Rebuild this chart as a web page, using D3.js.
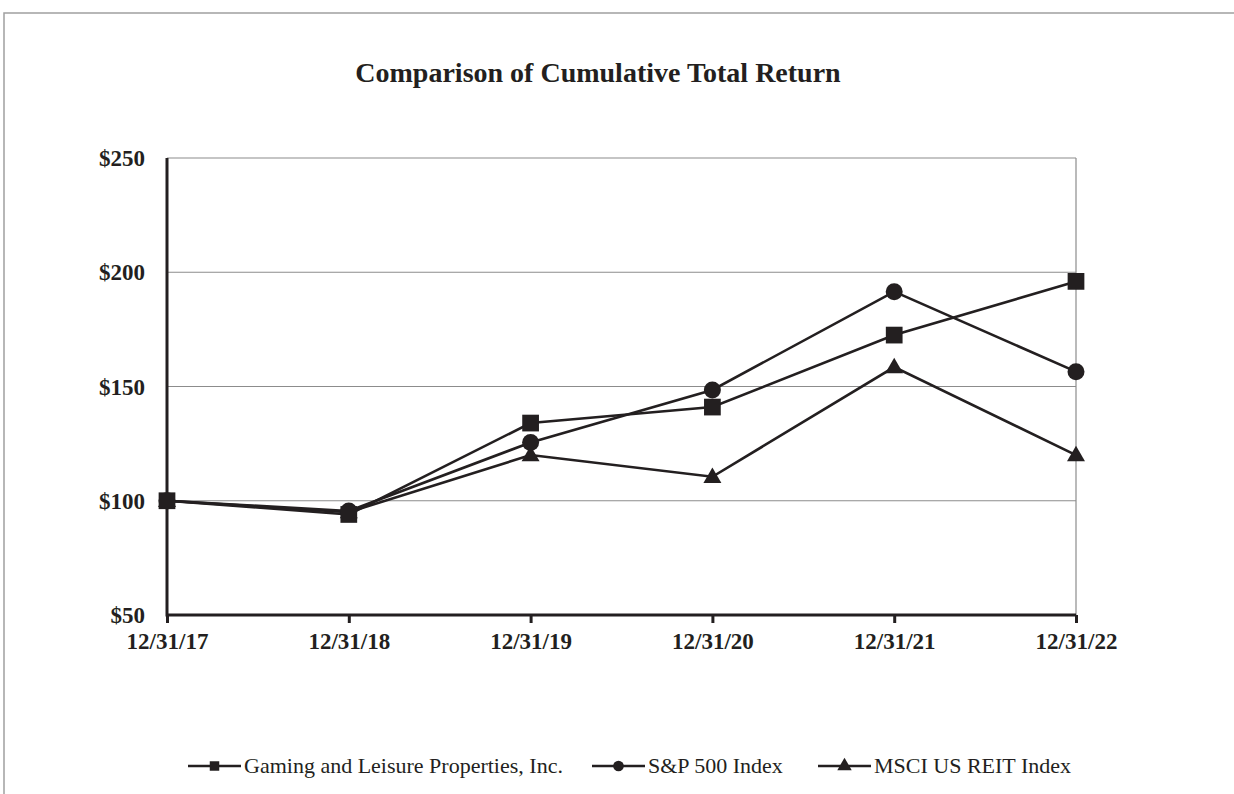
<!DOCTYPE html>
<html>
<head>
<meta charset="utf-8">
<script src="https://cdn.jsdelivr.net/npm/d3@7"></script>
<style>
  html, body { margin: 0; padding: 0; background: #fff; }
  svg { display: block; font-family: "Liberation Serif", "Times New Roman", serif; }
</style>
</head>
<body>
<div id="container"></div>
<script>
// Chart data
const dates = ['12/31/17', '12/31/18', '12/31/19', '12/31/20', '12/31/21', '12/31/22'];
const glpi = [100, 94, 134, 141, 172.5, 196];
const sp500 = [100, 95.5, 125.5, 148.5, 191.5, 156.5];
const reit = [100, 95, 120, 110.5, 158.5, 120];
const yTicks = [50, 100, 150, 200, 250];
const seriesNames = ['Gaming and Leisure Properties, Inc.', 'S&P 500 Index', 'MSCI US REIT Index'];
const seriesShapes = ['square', 'circle', 'triangle'];

const W = 1234, H = 794;
const ink = '#231f20';
const margin = { left: 167, right: 1076, top: 158, bottom: 615 };

const svg = d3.select('#container').append('svg')
  .attr('width', W)
  .attr('height', H);

// outer frame (top + left only)
svg.append('path')
  .attr('d', `M4,${H} L4,13 L${W},13`)
  .attr('fill', 'none')
  .attr('stroke', '#a0a0a0')
  .attr('stroke-width', 1.5);

// title
svg.append('text')
  .attr('x', 598)
  .attr('y', 82)
  .attr('text-anchor', 'middle')
  .attr('font-weight', 'bold')
  .attr('font-size', 28)
  .attr('fill', ink)
  .text('Comparison of Cumulative Total Return');

const x = d3.scalePoint().domain(dates).range([margin.left, margin.right]);
const y = d3.scaleLinear().domain([50, 250]).range([margin.bottom, margin.top]);

// gridlines
svg.append('g')
  .selectAll('line')
  .data(yTicks.filter(d => d > 50))
  .enter().append('line')
    .attr('x1', margin.left)
    .attr('x2', margin.right)
    .attr('y1', d => y(d))
    .attr('y2', d => y(d))
    .attr('stroke', '#8c8c8c')
    .attr('stroke-width', 1.2);

// right border of plot
svg.append('line')
  .attr('x1', margin.right).attr('x2', margin.right)
  .attr('y1', margin.top).attr('y2', margin.bottom)
  .attr('stroke', '#8c8c8c')
  .attr('stroke-width', 1.2);

// y axis labels
svg.append('g')
  .selectAll('text')
  .data(yTicks)
  .enter().append('text')
    .attr('x', 145)
    .attr('y', d => y(d))
    .attr('dy', '0.35em')
    .attr('text-anchor', 'end')
    .attr('font-weight', 'bold')
    .attr('font-size', 23)
    .attr('fill', ink)
    .text(d => '$' + d);

// x axis with ticks pointing down
const xAxis = svg.append('g')
  .attr('transform', `translate(0,${margin.bottom})`)
  .call(d3.axisBottom(x).tickSize(8).tickPadding(10));
xAxis.select('.domain').remove();
xAxis.selectAll('line').attr('stroke', ink).attr('stroke-width', 3);
xAxis.selectAll('text')
  .attr('font-family', '"Liberation Serif", serif')
  .attr('font-weight', 'bold')
  .attr('font-size', 23)
  .attr('fill', ink);

// axis lines
svg.append('path')
  .attr('d', `M${margin.left},${margin.top} L${margin.left},${margin.bottom} L${margin.right},${margin.bottom}`)
  .attr('fill', 'none')
  .attr('stroke', ink)
  .attr('stroke-width', 3);

const symbolFor = {
  square: d3.symbol().type(d3.symbolSquare).size(280),
  circle: d3.symbol().type(d3.symbolCircle).size(227),
  triangle: d3.symbol().type(d3.symbolTriangle).size(140)
};

const line = d3.line().x((d, i) => x(dates[i])).y(d => y(d));
const allSeries = [glpi, sp500, reit];

// lines first (reverse order so GLPI is on top)
allSeries.slice().reverse().forEach(vals => {
  svg.append('path')
    .datum(vals)
    .attr('d', line)
    .attr('fill', 'none')
    .attr('stroke', ink)
    .attr('stroke-width', 2.6);
});

allSeries.slice().reverse().forEach((vals, k) => {
  const shape = seriesShapes[allSeries.length - 1 - k];
  svg.append('g')
    .selectAll('path')
    .data(vals)
    .enter().append('path')
      .attr('d', symbolFor[shape])
      .attr('transform', (d, i) => `translate(${x(dates[i])},${y(d) + (shape === 'triangle' ? 1 : 0)})`)
      .attr('fill', ink);
});

// legend
const legendX = [188, 592, 818];
const legend = svg.append('g').attr('transform', 'translate(0,766)');
seriesNames.forEach((name, i) => {
  const g = legend.append('g').attr('transform', `translate(${legendX[i]},0)`);
  g.append('line')
    .attr('x1', 0).attr('x2', 53)
    .attr('stroke', ink)
    .attr('stroke-width', 2.4);
  g.append('path')
    .attr('d', d3.symbol().type(seriesShapes[i] === 'square' ? d3.symbolSquare :
      seriesShapes[i] === 'circle' ? d3.symbolCircle : d3.symbolTriangle).size(90))
    .attr('transform', 'translate(26.5,0)')
    .attr('fill', ink);
  g.append('text')
    .attr('x', 56)
    .attr('dy', '0.33em')
    .attr('font-size', 22)
    .attr('fill', ink)
    .text(name);
});
</script>
</body>
</html>
